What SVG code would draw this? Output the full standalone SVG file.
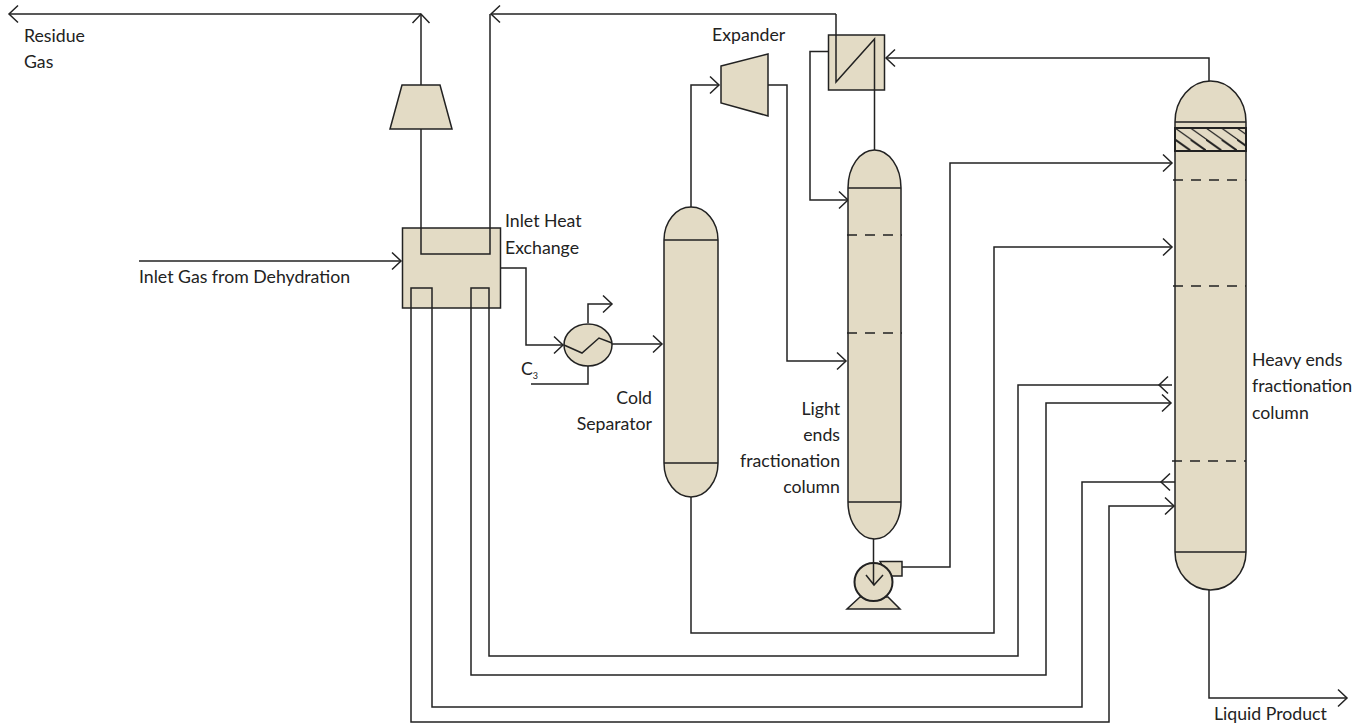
<svg xmlns="http://www.w3.org/2000/svg" width="1370" height="727" viewBox="0 0 1370 727">
<style>
.s{fill:#e3dbc5;stroke:#222;stroke-width:1.5}
.l{fill:none;stroke:#222;stroke-width:1.5}
.d{fill:none;stroke:#222;stroke-width:1.5;stroke-dasharray:10 8}
.a{marker-end:url(#arr)}
.e{text-anchor:end}
text{font-family:"Lato","Noto Sans",sans-serif;font-size:17.7px;fill:#222}
</style>
<defs>
<marker id="arr" markerUnits="userSpaceOnUse" markerWidth="24" markerHeight="24" refX="12" refY="12" orient="auto" overflow="visible">
<path d="M3,3.5 L12,12 L3,20.5" fill="none" stroke="#222" stroke-width="1.5"/>
</marker>
<pattern id="hatch" patternUnits="userSpaceOnUse" width="15.500" height="23" x="1175" y="128">
<rect width="15.500" height="23" fill="#e3dbc5"/>
<path d="M-31,-22 L31,22 M-15.500,-22 L46.500,22 M-46.500,-22 L15.500,22 M-31,1 L31,45 M-15.500,1 L46.500,45 M-46.500,1 L15.500,45" stroke="#222" stroke-width="1.2" fill="none"/>
</pattern>
</defs>
<g id="connectors">
<path class="l" d="M421,129 V254 H490 V14"/>
<path class="l a" d="M421,85 V14"/>
<path class="l a" d="M421,14 H9"/>
<path class="l a" d="M836,14 H491"/>
<path class="l a" d="M1209,81 V58 H886"/>
<path class="l a" d="M828,51.500 H810 V200 H848"/>
<path class="l a" d="M139,261 H401"/>
<path class="l a" d="M501,268 H526 V345 H563"/>
<path class="l a" d="M612,344 H662"/>
<path class="l a" d="M588,323 V304 H612"/>
<path class="l" d="M588,366 V384 H531"/>
<path class="l a" d="M691,207 V85 H719"/>
<path class="l a" d="M768,85 H787 V361 H846"/>
<path class="l a" d="M902,567 H950 V163 H1172"/>
<path class="l a" d="M691,497 V633 H994 V247 H1172"/>
<path class="l a" d="M489,308 V656 H1018 V385 H1172 M1172,385 H1159"/>
<path class="l a" d="M471,308 V675 H1046 V403 H1171"/>
<path class="l a" d="M432,308 V707 H1082 V482 H1175 M1175,482 H1161"/>
<path class="l a" d="M411,308 V722 H1109 V506 H1174"/>
<path class="l a" d="M1209,590 V698 H1347"/>
</g>
<g id="inlet-heat-exchange">
<rect class="s" x="402.500" y="228" width="98" height="80"/>
<path class="l" d="M421,228 V254 H490 V228 M411,308 V288 H432 V308 M471,308 V288 H489 V308"/>
</g>
<g id="compressor"><path class="s" d="M402,85 H440 L452,129 H390 Z"/></g>
<g id="chiller">
<ellipse class="s" cx="588" cy="345" rx="24" ry="21"/>
<path class="l" d="M564,345 L582,353 L599,338 L612,343"/>
</g>
<g id="cold-separator">
<path class="s" d="M664,240 A27,33 0 0 1 718,240 V463 A27,34 0 0 1 664,463 Z"/>
<path class="l" d="M664,240 H718 M664,463 H718"/>
</g>
<g id="expander"><path class="s" d="M721,66 L768,54 V116 L721,103 Z"/></g>
<g id="overhead-exchanger">
<rect class="s" x="828.500" y="35" width="56" height="55"/>
<path class="l" d="M836,14 V82 L874.500,39 V150"/>
</g>
<g id="light-ends-column">
<path class="s" d="M848,188 A26.500,38 0 0 1 901,188 V502 A26.500,37 0 0 1 848,502 Z"/>
<path class="l" d="M848,188 H901 M848,502 H901"/>
<path class="d" d="M847,235 H902 M847,333 H902"/>
</g>
<g id="pump">
<path class="s" d="M860,597 L847,609 H900 L888,597 Z"/>
<path class="s" d="M880,561.500 H902 V576 H888 Z"/>
<circle class="s" cx="873.500" cy="582" r="19" style="stroke-width:2"/>
<path class="l" d="M873.500,539 V585 M866,575 L874,585 L883,575"/>
</g>
<g id="heavy-ends-column">
<path class="s" d="M1175,122 A35.500,41 0 0 1 1246,122 V552 A35.500,38 0 0 1 1175,552 Z"/>
<rect x="1175" y="128" width="71" height="23" fill="url(#hatch)" stroke="#222" stroke-width="2"/>
<path class="l" d="M1175,122 H1246 M1175,552 H1246"/>
<path class="d" d="M1173,180 H1246 M1173,286 H1246 M1172,461 H1246"/>
</g>
<g id="labels">
<text x="24" y="42">Residue</text>
<text x="24" y="68">Gas</text>
<text x="139" y="283">Inlet Gas from Dehydration</text>
<text x="505" y="227">Inlet Heat</text>
<text x="505" y="254">Exchange</text>
<text x="521" y="375">C<tspan font-size="9" dy="4">3</tspan></text>
<text class="e" x="652" y="404">Cold</text>
<text class="e" x="652" y="430">Separator</text>
<text x="712" y="41">Expander</text>
<text class="e" x="840" y="415">Light</text>
<text class="e" x="840" y="441">ends</text>
<text class="e" x="840" y="467">fractionation</text>
<text class="e" x="840" y="493">column</text>
<text x="1252" y="366">Heavy ends</text>
<text x="1252" y="392">fractionation</text>
<text x="1252" y="419">column</text>
<text x="1214" y="720">Liquid Product</text>
</g>
</svg>
